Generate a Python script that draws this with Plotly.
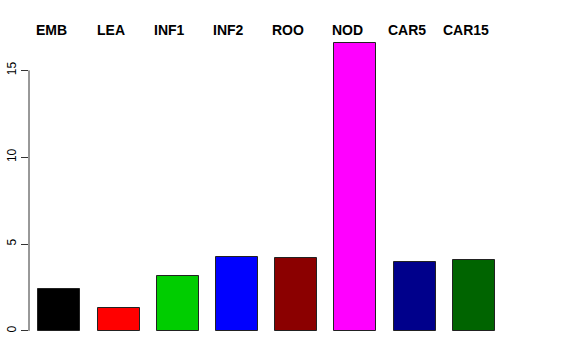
import plotly.graph_objects as go

categories = ["EMB", "LEA", "INF1", "INF2", "ROO", "NOD", "CAR5", "CAR15"]
values = [2.40, 1.30, 3.14, 4.25, 4.18, 16.55, 3.98, 4.10]
colors = ["#000000", "#FF0000", "#00CD00", "#0000FF", "#8B0000", "#FF00FF", "#00008B", "#006400"]
y_ticks = [0, 5, 10, 15]

fig = go.Figure()
fig.add_trace(go.Bar(
    x=categories, y=values,
    marker=dict(color=colors, line=dict(color="#222222", width=1)),
    width=0.71,
    showlegend=False,
))

for c in categories:
    fig.add_annotation(x=c, y=1, xref="x", yref="paper", text="<b>%s</b>" % c,
                       showarrow=False, xshift=-8, yshift=2, yanchor="middle",
                       font=dict(family="Liberation Sans, Arial, sans-serif", size=14, color="black"))

# R-style y axis line spanning the tick range
fig.add_shape(type="line", xref="paper", yref="y", x0=0, x1=0, y0=y_ticks[0], y1=y_ticks[-1],
              line=dict(color="#333333", width=1))

fig.update_layout(
    width=576, height=360,
    margin=dict(l=29, r=72, t=32, b=18, autoexpand=False),
    paper_bgcolor="white", plot_bgcolor="white",
    bargap=0,
    xaxis=dict(range=[-0.512, 7.51], showticklabels=False, ticks="", showline=False,
               showgrid=False, zeroline=False, automargin=False),
    yaxis=dict(range=[-0.64, 17.21], tickvals=y_ticks, ticktext=[str(v) for v in y_ticks],
               ticks="outside", ticklen=7, tickcolor="#333333", tickangle=-90,
               showline=False, showgrid=False, zeroline=False, automargin=False,
               tickfont=dict(family="Liberation Sans, Arial, sans-serif", size=12, color="black")),
)

fig.write_html("out.html")
